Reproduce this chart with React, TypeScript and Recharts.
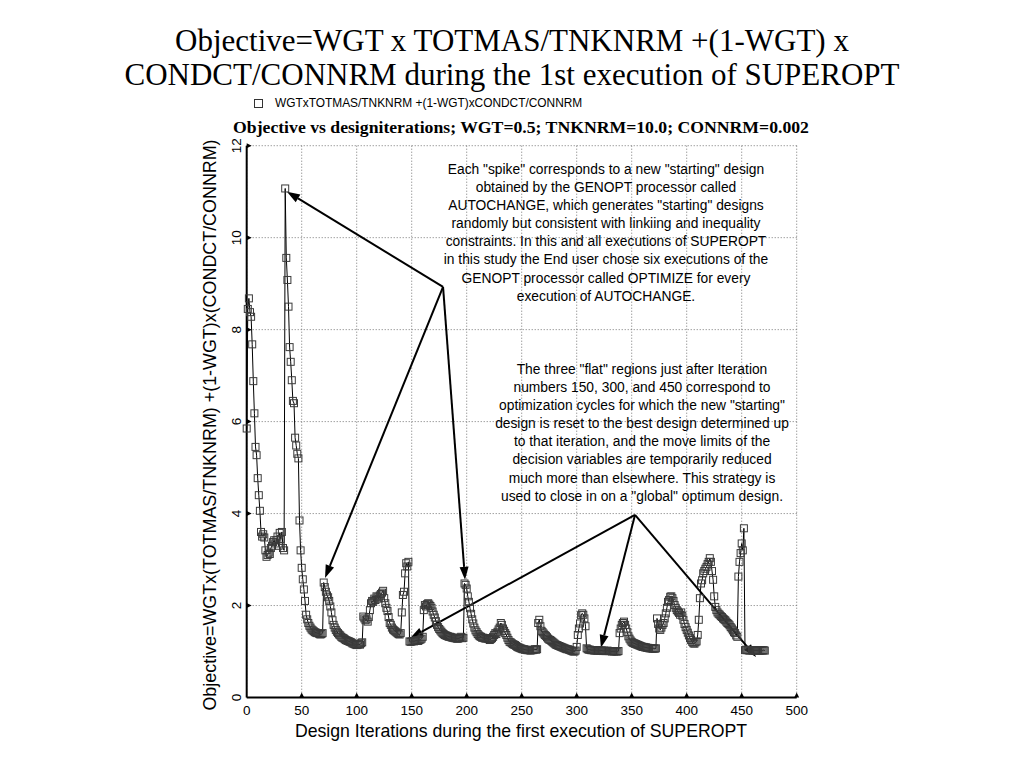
import React from "react";
import {
  ComposedChart,
  Line,
  Scatter,
  XAxis,
  YAxis,
  CartesianGrid,
  ReferenceLine,
} from "recharts";

// Objective values, one per design iteration, grouped by optimization cycle
const cycle0 = [5.85, 8.45, 8.68, 8.38, 8.28, 7.68, 6.88, 6.18, 5.45, 5.27, 4.77, 4.4, 4.06, 3.6, 3.5, 3.55, 3.48, 3.2, 3.06, 3.1, 3.15, 3.12, 3.25, 3.3, 3.38, 3.42, 3.35, 3.42, 3.5, 3.3, 3.58, 3.45, 3.6, 3.25, 3.2];
const cycle1 = [11.07, 9.56, 9.08, 8.5, 7.62, 7.3, 6.9, 6.45, 6.4, 5.65, 5.48, 5.3, 5.2, 3.85, 3.2, 2.82, 2.57, 2.35, 2.1, 1.8, 1.7, 1.62, 1.56, 1.52, 1.48, 1.46, 1.44, 1.42, 1.41, 1.4, 1.4, 1.38, 1.37, 1.38, 1.4];
const cycle2 = [2.5, 2.4, 2.3, 2.22, 2.18, 2.1, 1.98, 1.85, 1.68, 1.58, 1.52, 1.47, 1.43, 1.4, 1.37, 1.35, 1.32, 1.3, 1.29, 1.27, 1.25, 1.24, 1.23, 1.22, 1.21, 1.2, 1.18, 1.17, 1.16, 1.15, 1.14, 1.15, 1.16, 1.15, 1.18, 1.2, 1.76, 1.72, 1.68, 1.7, 1.65, 1.75, 1.9, 2.05, 2.1, 2.08, 2.15, 2.12, 2.2, 2.18, 2.15, 2.22, 2.25, 2.28, 2.32, 2.16, 2.05, 1.95, 1.88, 1.75, 1.62, 1.58, 1.52, 1.48, 1.46, 1.44, 1.42, 1.4, 1.38, 1.37, 1.4, 1.85, 2.23, 2.3, 2.7, 2.92, 2.85, 2.95];
const flat150 = [1.22, 1.21, 1.22, 1.23, 1.22, 1.23, 1.24, 1.24, 1.23, 1.25, 1.26, 1.28, 1.32];
const cycle3 = [1.9, 2.01, 1.98, 2.03, 2.05, 2.02, 1.99, 1.95, 1.87, 1.8, 1.74, 1.66, 1.58, 1.53, 1.49, 1.46, 1.43, 1.4, 1.38, 1.36, 1.35, 1.34, 1.33, 1.32, 1.32, 1.31, 1.3, 1.3, 1.29, 1.29, 1.28, 1.28, 1.29, 1.3, 1.32, 1.29, 1.3];
const cycle4 = [2.48, 2.45, 2.37, 2.2, 2.08, 1.94, 1.82, 1.7, 1.61, 1.52, 1.46, 1.42, 1.38, 1.35, 1.33, 1.32, 1.3, 1.3, 1.29, 1.28, 1.29, 1.28, 1.27, 1.25, 1.27, 1.29, 1.32, 1.36, 1.4, 1.38, 1.43, 1.48, 1.52, 1.62, 1.58, 1.5, 1.45, 1.4, 1.36, 1.3, 1.25, 1.21, 1.2, 1.18, 1.16, 1.15, 1.14, 1.12, 1.1, 1.09, 1.08, 1.07, 1.06, 1.05, 1.05, 1.04, 1.04, 1.03, 1.03, 1.03, 1.02, 1.03, 1.03, 1.04, 1.05, 1.04, 1.05];
const cycle5 = [1.62, 1.69, 1.55, 1.45, 1.42, 1.39, 1.36, 1.34, 1.31, 1.28, 1.26, 1.25, 1.23, 1.21, 1.19, 1.17, 1.15, 1.14, 1.13, 1.12, 1.11, 1.1, 1.09, 1.08, 1.07, 1.06, 1.05, 1.05, 1.04, 1.03, 1.02, 1.01, 1.0, 1.0, 1.02, 1.1, 1.36, 1.5, 1.61, 1.79, 1.83, 1.8, 1.72, 1.55];
const flat300 = [1.07, 1.05, 1.04, 1.04, 1.03, 1.03, 1.03, 1.02, 1.03, 1.02, 1.02, 1.03, 1.02, 1.02, 1.02, 1.01, 1.02, 1.01, 1.01, 1.02, 1.01, 1.01, 1.01, 1.0, 1.01, 1.0, 1.01, 1.0, 1.0, 1.01];
const cycle6 = [1.4, 1.5, 1.58, 1.62, 1.65, 1.58, 1.5, 1.42, 1.33, 1.28, 1.24, 1.21, 1.19, 1.18, 1.17, 1.16, 1.15, 1.14, 1.13, 1.12, 1.11, 1.1, 1.1, 1.09, 1.09, 1.08, 1.08, 1.07, 1.07, 1.07, 1.06, 1.07, 1.06, 1.07];
const cycle7 = [1.72, 1.6, 1.5, 1.47, 1.52, 1.58, 1.62, 1.72, 1.83, 1.95, 2.08, 2.12, 2.19, 2.2, 2.16, 2.1, 2.01, 1.95, 1.9, 1.87, 1.84, 1.8, 1.85, 1.78, 1.69, 1.6, 1.53, 1.47, 1.41, 1.35, 1.29, 1.25, 1.21, 1.18, 1.17, 1.2, 1.22];
const cycle8 = [1.36, 1.69, 2.16, 2.48, 2.55, 2.7, 2.75, 2.8, 2.84, 2.9, 2.95, 3.03, 2.95, 2.75, 2.56, 2.2, 1.97, 1.9, 1.85, 1.82, 1.8, 1.77, 1.75, 1.72, 1.7, 1.68, 1.65, 1.62, 1.6, 1.57, 1.53, 1.5, 1.46, 1.42, 1.4, 1.35, 1.32];
const cycle9 = [2.63, 2.95, 3.14, 3.35, 3.2, 3.68];
const flat450 = [1.03, 1.04, 1.03, 1.03, 1.02, 1.03, 1.03, 1.02, 1.03, 1.02, 1.03, 1.02, 1.03, 1.02, 1.02, 1.03, 1.02, 1.03, 1.02];

const xTicks = [0, 50, 100, 150, 200, 250, 300, 350, 400, 450, 500];
const yTicks = [0, 2, 4, 6, 8, 10, 12];

const title1 = "Objective=WGT x TOTMAS/TNKNRM +(1-WGT) x";
const title2 = "CONDCT/CONNRM during the 1st execution of SUPEROPT";
const legendText = "WGTxTOTMAS/TNKNRM +(1-WGT)xCONDCT/CONNRM";
const subtitle = "Objective vs designiterations; WGT=0.5; TNKNRM=10.0; CONNRM=0.002";
const xLabel = "Design Iterations during the first execution of SUPEROPT";
const yLabel = "Objective=WGTx(TOTMAS/TNKNRM) +(1-WGT)x(CONDCT/CONNRM)";

const note1 = [
  'Each "spike" corresponds to a new "starting" design',
  "obtained by the GENOPT processor called",
  'AUTOCHANGE, which generates "starting" designs',
  "randomly but consistent with linkiing and inequality",
  "constraints. In this and all executions of SUPEROPT",
  "in this study the End user chose six executions of the",
  "GENOPT processor called OPTIMIZE for every",
  "execution of AUTOCHANGE.",
];
const note2 = [
  'The three "flat" regions just after Iteration',
  "numbers 150, 300, and 450 correspond to",
  'optimization cycles for which the new "starting"',
  "design is reset to the best design determined up",
  "to that iteration, and the move limits of the",
  "decision variables are temporarily reduced",
  "much more than elsewhere. This strategy is",
  'used to close in on a "global" optimum design.',
];

// arrows: [fromIter, fromValue, toIter, toValue]
const spikeArrows = [
  [178.5, 8.93, 36.6, 11.0],
  [178.5, 8.93, 71.2, 2.6],
  [178.5, 8.93, 198.5, 2.56],
];
const flatArrows = [
  [353, 3.97, 148.5, 1.29],
  [353, 3.97, 322, 1.08],
  [353, 3.97, 463, 0.88],
];

const allValues = [
  ...cycle0, ...cycle1, ...cycle2, ...flat150, ...cycle3, ...cycle4,
  ...cycle5, ...flat300, ...cycle6, ...cycle7, ...cycle8, ...cycle9, ...flat450,
];
const seriesData = allValues.map((v, i) => ({ x: i, y: v }));
const bottomTicks = xTicks.slice(1).map((t) => ({ x: t, y: 0 }));
const leftTicks = yTicks.slice(1).map((t) => ({ x: 0, y: t }));

const SANS = "'Liberation Sans', Arial, sans-serif";
const SERIF = "'Liberation Serif', 'Times New Roman', serif";

const SquareDot = (props: any) => {
  const { cx, cy, index } = props;
  if (cx == null || cy == null) return <g key={`e${index}`} />;
  return (
    <rect
      key={`d${index}`}
      x={cx - 3.5}
      y={cy - 3.5}
      width={7}
      height={7}
      fill="none"
      stroke="#3a3a3a"
      strokeWidth={1}
    />
  );
};

const UpTri = (props: any) => {
  const { cx, cy } = props;
  return <polygon points={`${cx - 2.5},${cy} ${cx + 2.5},${cy} ${cx},${cy - 5}`} fill="#000" />;
};
const RightTri = (props: any) => {
  const { cx, cy } = props;
  return <polygon points={`${cx},${cy - 2.5} ${cx},${cy + 2.5} ${cx + 5},${cy}`} fill="#000" />;
};

const ArrowShape = (props: any) => {
  const { x1, y1, x2, y2 } = props;
  if ([x1, y1, x2, y2].some((v) => v == null || isNaN(v))) return <g />;
  const dx = x2 - x1;
  const dy = y2 - y1;
  const len = Math.sqrt(dx * dx + dy * dy) || 1;
  const ux = dx / len;
  const uy = dy / len;
  const hl = 13;
  const hw = 4.5;
  const bx = x2 - ux * hl;
  const by = y2 - uy * hl;
  const p1 = `${bx - uy * hw},${by + ux * hw}`;
  const p2 = `${bx + uy * hw},${by - ux * hw}`;
  return (
    <g>
      <line x1={x1} y1={y1} x2={bx} y2={by} stroke="#000" strokeWidth={2} />
      <polygon points={`${x2},${y2} ${p1} ${p2}`} fill="#000" />
    </g>
  );
};

const YTick = (props: any) => {
  const { x, y, payload } = props;
  const tx = x + 2;
  return (
    <text
      x={tx}
      y={y}
      transform={`rotate(-90, ${tx}, ${y})`}
      textAnchor="middle"
      fontSize={13.5}
      fontFamily={SANS}
      fill="#000"
    >
      {payload.value}
    </text>
  );
};

const XTick = (props: any) => {
  const { x, y, payload } = props;
  return (
    <text x={x} y={y + 9} textAnchor="middle" fontSize={13.5} fontFamily={SANS} fill="#000">
      {payload.value}
    </text>
  );
};

const PLOT_LEFT = 246.7;
const PLOT_RIGHT = 796.7;
const PLOT_TOP = 145.7;
const PLOT_BOTTOM = 697.5;
const Y_AXIS_W = 30;
const X_AXIS_H = 30;

export default function App() {
  return (
    <div style={{ position: "relative", width: 1024, height: 768, margin: -8, background: "#fff", overflow: "hidden" }}>
      <div
        style={{
          position: "absolute",
          left: 0,
          top: 24,
          width: 1024,
          textAlign: "center",
          fontFamily: SERIF,
          fontSize: 31,
          lineHeight: "34px",
          color: "#000",
          whiteSpace: "nowrap",
        }}
      >
        <div>{title1}</div>
        <div>{title2}</div>
      </div>

      <div
        style={{
          position: "absolute",
          left: 254,
          top: 96,
          fontFamily: SANS,
          fontSize: 11.9,
          lineHeight: "14px",
          color: "#000",
          whiteSpace: "nowrap",
          display: "flex",
          alignItems: "center",
        }}
      >
        <span style={{ display: "inline-block", width: 7, height: 7, border: "1px solid #333", marginRight: 12 }} />
        <span>{legendText}</span>
      </div>

      <div
        style={{
          position: "absolute",
          left: 0,
          top: 117,
          width: 1042,
          textAlign: "center",
          fontFamily: SERIF,
          fontWeight: "bold",
          fontSize: 17.7,
          lineHeight: "20px",
          color: "#000",
          whiteSpace: "nowrap",
        }}
      >
        {subtitle}
      </div>

      <div style={{ position: "absolute", left: 0, top: 0 }}>
        <ComposedChart
          width={1024}
          height={768}
          margin={{
            top: PLOT_TOP,
            right: 1024 - PLOT_RIGHT,
            bottom: 768 - PLOT_BOTTOM - X_AXIS_H,
            left: PLOT_LEFT - Y_AXIS_W,
          }}
        >
          <CartesianGrid stroke="#777" strokeDasharray="1 2" strokeWidth={1} />
          <XAxis
            dataKey="x"
            type="number"
            domain={[0, 500]}
            ticks={xTicks}
            height={X_AXIS_H}
            tickLine={false}
            axisLine={{ stroke: "#000", strokeWidth: 2 }}
            tick={<XTick />}
          />
          <YAxis
            dataKey="y"
            type="number"
            domain={[0, 12]}
            ticks={yTicks}
            width={Y_AXIS_W}
            tickLine={false}
            axisLine={{ stroke: "#000", strokeWidth: 2 }}
            tick={<YTick />}
          />
          <Line
            data={seriesData}
            dataKey="y"
            type="linear"
            stroke="#000"
            strokeWidth={1}
            dot={SquareDot}
            activeDot={false}
            isAnimationActive={false}
            legendType="none"
          />
          <Scatter data={bottomTicks} dataKey="y" shape={<UpTri />} isAnimationActive={false} />
          <Scatter data={leftTicks} dataKey="y" shape={<RightTri />} isAnimationActive={false} />
          {[...spikeArrows, ...flatArrows].map((a, i) => (
            <ReferenceLine
              key={`arr${i}`}
              segment={[
                { x: a[0], y: a[1] },
                { x: a[2], y: a[3] },
              ]}
              ifOverflow="visible"
              shape={ArrowShape}
            />
          ))}
        </ComposedChart>
      </div>

      <div
        style={{
          position: "absolute",
          left: 406,
          top: 161,
          width: 400,
          textAlign: "center",
          fontFamily: SANS,
          fontSize: 13.8,
          lineHeight: "18.1px",
          color: "#000",
          whiteSpace: "nowrap",
        }}
      >
        {note1.map((l, i) => (
          <div key={i}>{l}</div>
        ))}
      </div>

      <div
        style={{
          position: "absolute",
          left: 442,
          top: 361,
          width: 400,
          textAlign: "center",
          fontFamily: SANS,
          fontSize: 13.8,
          lineHeight: "18.1px",
          color: "#000",
          whiteSpace: "nowrap",
        }}
      >
        {note2.map((l, i) => (
          <div key={i}>{l}</div>
        ))}
      </div>

      <div
        style={{
          position: "absolute",
          left: 210 - 350,
          top: 425 - 10,
          width: 700,
          height: 20,
          lineHeight: "20px",
          textAlign: "center",
          transform: "rotate(-90deg)",
          transformOrigin: "350px 10px",
          fontFamily: SANS,
          fontSize: 17.9,
          color: "#000",
          whiteSpace: "nowrap",
        }}
      >
        {yLabel}
      </div>

      <div
        style={{
          position: "absolute",
          left: 0,
          top: 721,
          width: 1042,
          textAlign: "center",
          fontFamily: SANS,
          fontSize: 17.7,
          lineHeight: "20px",
          color: "#000",
          whiteSpace: "nowrap",
        }}
      >
        {xLabel}
      </div>
    </div>
  );
}
